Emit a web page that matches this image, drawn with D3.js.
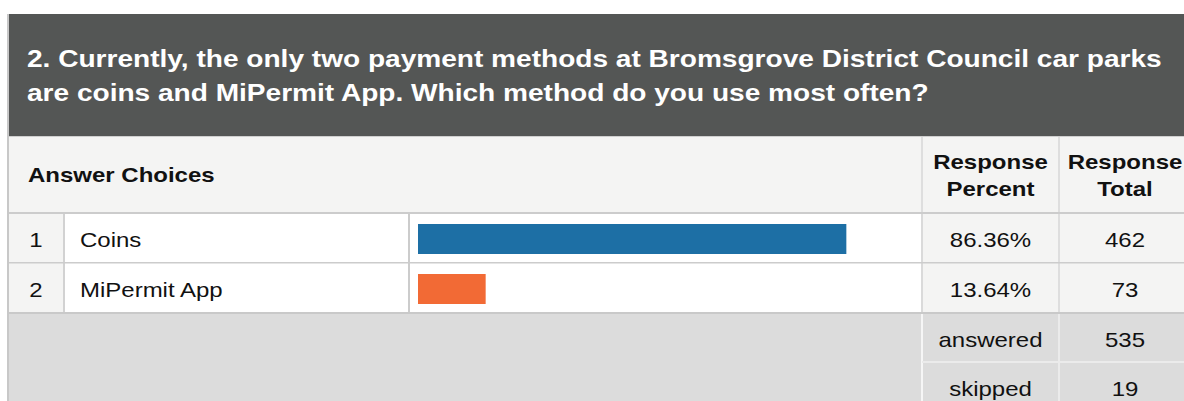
<!DOCTYPE html>
<html>
<head>
<meta charset="utf-8">
<script src="https://cdn.jsdelivr.net/npm/d3@7/dist/d3.min.js"></script>
<style>
  html, body { margin: 0; padding: 0; background: #ffffff; }
  svg { display: block; }
  text { font-family: "Liberation Sans", Arial, Helvetica, sans-serif; }
</style>
</head>
<body>
<svg id="chart" width="1184" height="401"></svg>
<script>
// ---- data ----
const titleLines = [
  "2. Currently, the only two payment methods at Bromsgrove District Council car parks",
  "are coins and MiPermit App. Which method do you use most often?"
];
const headerLabels = ["Answer Choices", ["Response", "Percent"], ["Response", "Total"]];
const categories = ["Coins", "MiPermit App"];
const percents = [86.36, 13.64];
const totals = [462, 73];
const barColors = ["#1d6fa5", "#f26a35"];
const footerLabels = ["answered", "skipped"];
const footerValues = [535, 19];

// ---- layout ----
const svg = d3.select("#chart");
const W = 1184, H = 401;
const SX = 1.2; // horizontal stretch of glyphs in reference
const xL = 8, c1 = 64, c2 = 409, c3 = 922, c4 = 1059, xR = 1190;
const headTop = 14, headBot = 136, colHeadBot = 213, rowH = 50;
const footTop = colHeadBot + rowH * categories.length + 1;

const x = d3.scaleLinear().domain([0, 100]).range([418, 914]);

function txt(g, s, tx, ty, opts) {
  return g.append("text")
    .attr("transform", `translate(${tx},${ty}) scale(${SX},1)`)
    .attr("text-anchor", opts.anchor || "start")
    .attr("font-size", opts.size)
    .attr("font-weight", opts.weight || "normal")
    .attr("fill", opts.fill || "#111")
    .text(s);
}

// dark title band
svg.append("rect").attr("x", xL).attr("y", headTop).attr("width", W - xL).attr("height", headBot - headTop).attr("fill", "#545655");
titleLines.forEach((s, i) => txt(svg, s, 27, 67 + i * 34, {size: 23.4, weight: "bold", fill: "#ffffff"}));

// column header row
svg.append("rect").attr("x", xL).attr("y", headBot).attr("width", W - xL).attr("height", colHeadBot - headBot).attr("fill", "#f4f4f3");
svg.append("rect").attr("x", xL).attr("y", headBot).attr("width", W - xL).attr("height", 1).attr("fill", "#cfcfcf");
[c3, c4].forEach(cx => svg.append("rect").attr("x", cx - 1).attr("y", headBot + 1).attr("width", 2).attr("height", colHeadBot - headBot - 1).attr("fill", "#dedede"));
txt(svg, headerLabels[0], 28, 182, {size: 20, weight: "bold"});
[[(c3 + c4) / 2, headerLabels[1]], [1125, headerLabels[2]]].forEach(([cx, lines]) => {
  lines.forEach((s, i) => txt(svg, s, cx, 169 + i * 27, {size: 20, weight: "bold", anchor: "middle"}));
});

// data rows
const rows = svg.append("g");
categories.forEach((cat, i) => {
  const y0 = colHeadBot + i * rowH;
  rows.append("rect").attr("x", xL).attr("y", y0).attr("width", c1 - xL).attr("height", rowH).attr("fill", "#f4f4f3");
  rows.append("rect").attr("x", c1).attr("y", y0).attr("width", c3 - c1).attr("height", rowH).attr("fill", "#ffffff");
  rows.append("rect").attr("x", c3).attr("y", y0).attr("width", xR - c3).attr("height", rowH).attr("fill", "#f4f4f3");
  [[c1, "#d2d2d2"], [c2, "#cccccc"], [c3, "#dadada"], [c4, "#dedede"]].forEach(([cx, col]) =>
    rows.append("rect").attr("x", cx - 1).attr("y", y0).attr("width", 2).attr("height", rowH).attr("fill", col));
  rows.append("rect").attr("x", x(0)).attr("y", y0 + 11).attr("width", x(percents[i]) - x(0)).attr("height", 30).attr("fill", barColors[i]);
  txt(rows, String(i + 1), (xL + c1) / 2, y0 + 34, {size: 20, anchor: "middle"});
  txt(rows, cat, 80, y0 + 34, {size: 20});
  txt(rows, percents[i].toFixed(2) + "%", (c3 + c4) / 2, y0 + 34, {size: 20, anchor: "middle"});
  txt(rows, String(totals[i]), 1125, y0 + 34, {size: 20, anchor: "middle"});
});
// horizontal row borders
[colHeadBot, colHeadBot + rowH].forEach((yy, i) =>
  svg.append("rect").attr("x", xL).attr("y", yy - 1).attr("width", W - xL).attr("height", i === 0 ? 2 : 1.5).attr("fill", "#cccccc"));

// footer
svg.append("rect").attr("x", xL).attr("y", footTop - 1).attr("width", W - xL).attr("height", H - footTop + 1).attr("fill", "#dcdcdc");
svg.append("rect").attr("x", xL).attr("y", footTop - 2).attr("width", W - xL).attr("height", 2).attr("fill", "#c9c9c9");
svg.append("rect").attr("x", c3 - 1).attr("y", footTop).attr("width", 2).attr("height", H - footTop).attr("fill", "#f6f6f6");
svg.append("rect").attr("x", c4 - 1).attr("y", footTop).attr("width", 2).attr("height", H - footTop).attr("fill", "#ebebeb");
svg.append("rect").attr("x", c3).attr("y", 361).attr("width", xR - c3).attr("height", 2).attr("fill", "#ebebeb");
footerLabels.forEach((s, i) => {
  txt(svg, s, (c3 + c4) / 2, 347 + i * 49, {size: 20, anchor: "middle"});
  txt(svg, String(footerValues[i]), 1125, 347 + i * 49, {size: 20, anchor: "middle"});
});

// outer left border
svg.append("rect").attr("x", 7).attr("y", headTop).attr("width", 2).attr("height", H - headTop).attr("fill", "#c8c8c8");
</script>
</body>
</html>
